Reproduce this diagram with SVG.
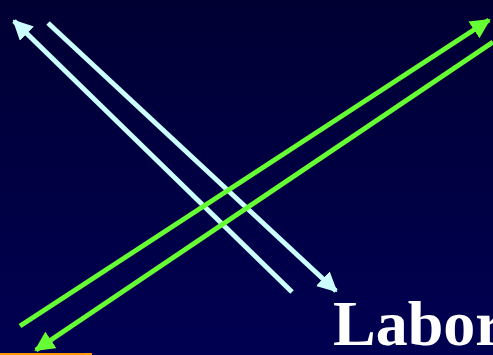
<svg xmlns="http://www.w3.org/2000/svg" width="493" height="355" viewBox="0 0 493 355">
<defs>
<linearGradient id="bg" x1="0" y1="0" x2="0" y2="1">
<stop offset="0" stop-color="#000033"/>
<stop offset="1" stop-color="#000052"/>
</linearGradient>
<marker id="ac" viewBox="0 0 10 10" refX="9" refY="5" markerWidth="4" markerHeight="4" orient="auto" markerUnits="strokeWidth">
<path d="M0,0 L10,5 L0,10 z" fill="#ccffff"/>
</marker>
<marker id="ag" viewBox="0 0 10 10" refX="9" refY="5" markerWidth="4" markerHeight="4" orient="auto" markerUnits="strokeWidth">
<path d="M0,0 L10,5 L0,10 z" fill="#66ff33"/>
</marker>
<style>
.c{stroke:#ccffff;stroke-width:5;fill:none}
.g{stroke:#66ff33;stroke-width:5;fill:none}
.t{font-family:"Liberation Serif","Times New Roman",serif;font-weight:bold;font-size:64px;fill:#ffffff}
</style>
</defs>
<rect width="493" height="355" fill="url(#bg)"/>
<g id="connectors">
<line class="c" x1="292" y1="292" x2="14" y2="21" marker-end="url(#ac)"/>
<line class="c" x1="48" y1="23" x2="336" y2="291" marker-end="url(#ac)"/>
<line class="g" x1="20" y1="326" x2="489" y2="20" marker-end="url(#ag)"/>
<line class="g" x1="493" y1="42" x2="36" y2="350" marker-end="url(#ag)"/>
</g>
<rect x="0" y="353" width="92" height="2" fill="#ff9900"/>
<g id="label">
<text class="t" x="333" y="345">Labor</text>
</g>
</svg>
